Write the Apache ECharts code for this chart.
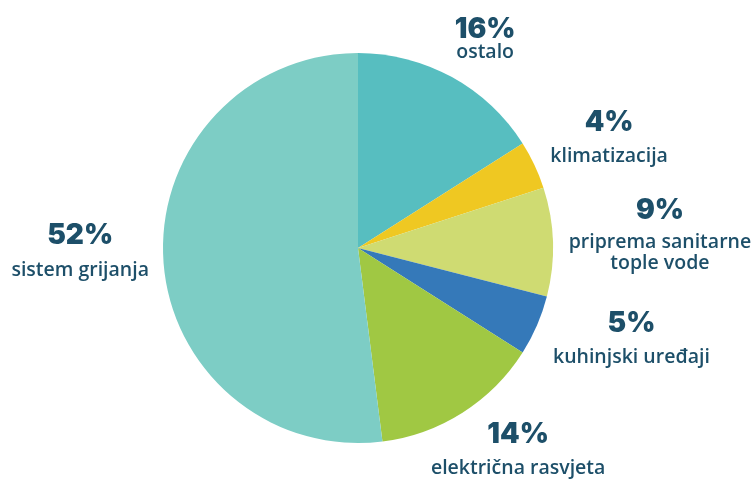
<!DOCTYPE html>
<html>
<head>
<meta charset="utf-8">
<script src="https://cdn.jsdelivr.net/npm/echarts@6/dist/echarts.min.js"></script>
<style>
  html, body { margin: 0; padding: 0; background: #fff; }
  #main { width: 756px; height: 479px; }
</style>
</head>
<body>
<div id="main"></div>
<script>
// slices, clockwise from 12 o'clock
var categories = ['ostalo', 'klimatizacija', 'priprema sanitarne\ntople vode', 'kuhinjski uređaji', 'električna rasvjeta', 'sistem grijanja'];
var shares = [16, 4, 9, 5, 14, 52];
var colors = ['#57bec0', '#efc822', '#cfdb72', '#3579b9', '#a0c843', '#7dcdc5'];

var chart = echarts.init(document.getElementById('main'));

var data = categories.map(function (name, i) {
  return { name: name, value: shares[i], itemStyle: { color: colors[i] } };
});

// small nudges for the outside labels
var nudge = [[-8, -24], [0, -24], [2, -10], [0, 6], [-43, 25], [2, -12]];

var txt = { color: '#1d4f69', align: 'center' };
var pctStyle = Object.assign({ fontFamily: 'Inter', fontWeight: 900, fontSize: 28, lineHeight: 42 }, txt);
var nameStyle = Object.assign({ fontFamily: 'Open Sans', fontWeight: 600, fontSize: 19.5, lineHeight: 26 }, txt);

var option = {
  animation: false,
  series: [
    {
      type: 'pie',
      center: [358, 248],
      radius: 195,
      startAngle: 90,
      clockwise: true,
      data: data,
      label: {
        show: true,
        position: 'outside',
        overflow: 'none',
        formatter: function (p) {
          var pk = p.dataIndex === 0 ? 'pctS' : 'pct';
          var nk = p.name.indexOf('\n') >= 0 ? 'nameS' : 'name';
          return '{' + pk + '|' + p.value + '%}\n{' + nk + '|' + p.name.split('\n').join('}\n{' + nk + '|') + '}';
        },
        rich: {
          pct: pctStyle,
          pctS: Object.assign({}, pctStyle, { lineHeight: 20 }),
          name: nameStyle,
          nameS: Object.assign({}, nameStyle, { lineHeight: 21 })
        }
      },
      labelLine: { show: false, length: 12, length2: 0 },
      labelLayout: function (p) {
        var n = nudge[p.dataIndex];
        return { dx: n[0], dy: n[1] };
      }
    }
  ]
};

chart.setOption(option);
</script>
</body>
</html>
